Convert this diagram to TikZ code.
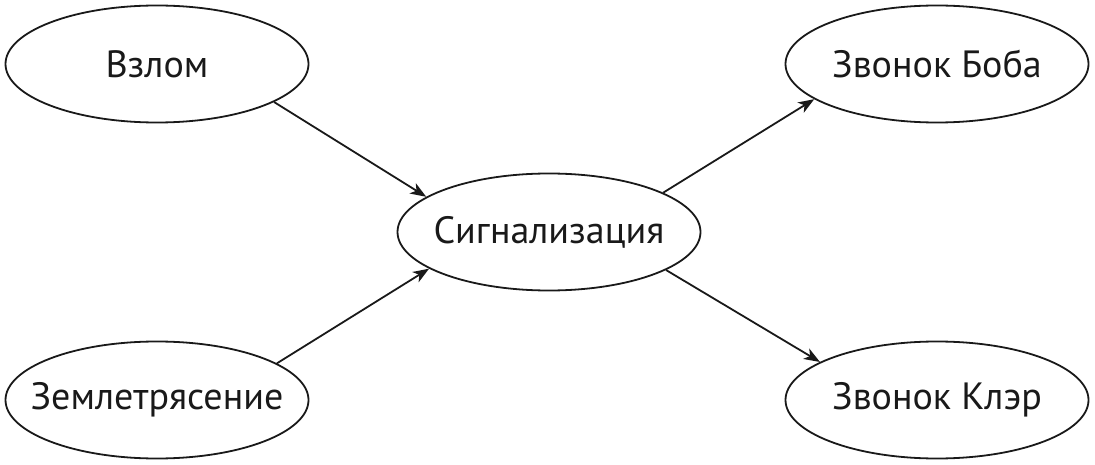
\documentclass[tikz,border=0pt]{standalone}
\usepackage{fontspec}
\setmainfont{PT Sans}
\usetikzlibrary{shapes.geometric,arrows.meta}
\begin{document}
\begin{tikzpicture}[x=1pt,y=-1pt,
  ev/.style={ellipse,draw=black!90,line width=1.8pt,minimum width=303pt,minimum height=117pt,inner xsep=-45pt,inner ysep=0pt,font=\fontsize{38}{42}\selectfont,text=black!90},
  arr/.style={line width=1.8pt,draw=black!90,-{Stealth[length=16pt,width=12pt,inset=4.5pt]}}]
\useasboundingbox (0,0) rectangle (1095,465);
\node[ev] (vz) at (157,64) {Взлом};
\node[ev] (zem) at (157,400) {Землетрясение};
\node[ev] (sig) at (549,232) {Сигнализация};
\node[ev] (bob) at (937,64) {Звонок Боба};
\node[ev] (kl) at (937,400) {Звонок Клэр};
\draw[arr] (vz.-18) -- (sig.164);
\draw[arr] (zem.17) -- (sig.197);
\draw[arr] (sig.19) -- (bob.196);
\draw[arr] (sig.-18) -- (kl.162);
\end{tikzpicture}
\end{document}
